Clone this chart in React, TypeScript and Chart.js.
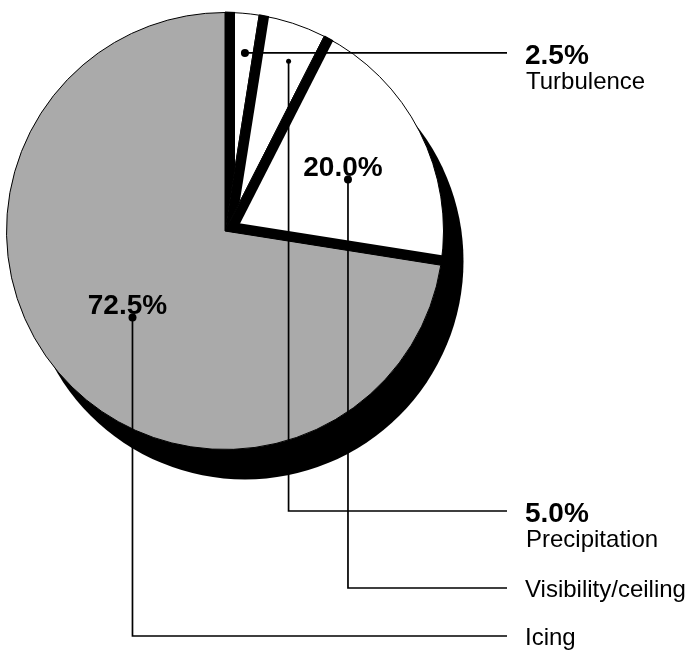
import React, { useEffect, useRef } from 'react';
import { Chart, registerables } from 'chart.js';

Chart.register(...registerables);

// ---- data ----
const categories = ['Turbulence', 'Precipitation', 'Visibility/ceiling', 'Icing'];
const shares = [2.5, 5.0, 20.0, 72.5];
const shareLabels = ['2.5%', '5.0%', '20.0%', '72.5%'];

// ---- styles / annotation layout ----
const WHITE = '#ffffff';
const GRAY = '#aaaaaa';
const sliceColors = [WHITE, WHITE, WHITE, GRAY];
const anchorT = [0.71, 0.64, 0.56, 0.49]; // fraction along slice angle
const anchorRF = [0.82, 0.83, 0.61, 0.58]; // fraction of radius
const dotRadius = [4, 2.5, 4, 4];
const pctInside = [false, false, true, true];
const legendLineY: (number | null)[] = [null, 511, 588, 636];

const SHADOW_DX = 20;
const SHADOW_DY = 30;
const BAND = 10;
const LINE_END_X = 507;
const TEXT_X = 525;
const PCT_FONT = 'bold 28px "Liberation Sans", Arial, sans-serif';
const NAME_FONT = '24px "Liberation Sans", Arial, sans-serif';

const pieDecor = {
  id: 'pieDecor',
  beforeDatasetsDraw(chart: any) {
    const meta = chart.getDatasetMeta(0);
    const a0 = meta.data[0];
    if (!a0) return;
    const { x, y, outerRadius } = a0;
    const ctx = chart.ctx;
    ctx.save();
    ctx.fillStyle = '#000';
    ctx.beginPath();
    ctx.arc(x + SHADOW_DX, y + SHADOW_DY, outerRadius, 0, Math.PI * 2);
    ctx.fill();
    ctx.restore();
  },
  afterDatasetsDraw(chart: any) {
    const meta = chart.getDatasetMeta(0);
    const arcs = meta.data;
    const ctx = chart.ctx;
    const n = arcs.length;
    // black bands on white slices
    arcs.forEach((a: any, i: number) => {
      if (sliceColors[i] !== WHITE) return;
      const { x, y, outerRadius: R, startAngle, endAngle } = a;
      const next = (i + 1) % n;
      const edges = [startAngle];
      if (sliceColors[next] !== WHITE) edges.push(endAngle);
      ctx.save();
      ctx.beginPath();
      ctx.moveTo(x, y);
      ctx.arc(x, y, R + 1, startAngle, endAngle);
      ctx.closePath();
      ctx.clip();
      ctx.strokeStyle = '#000';
      ctx.lineWidth = BAND * 2;
      ctx.lineCap = 'butt';
      edges.forEach((ang: number) => {
        const c = Math.cos(ang), s = Math.sin(ang);
        ctx.beginPath();
        ctx.moveTo(x - c * 30, y - s * 30);
        ctx.lineTo(x + c * (R + 10), y + s * (R + 10));
        ctx.stroke();
      });
      ctx.restore();
    });

    // leaders, dots and labels
    ctx.save();
    ctx.strokeStyle = '#000';
    ctx.fillStyle = '#000';
    ctx.lineWidth = 1.7;
    arcs.forEach((a: any, i: number) => {
      const { x, y, outerRadius: R, startAngle, endAngle } = a;
      const ang = startAngle + anchorT[i] * (endAngle - startAngle);
      const px = x + Math.cos(ang) * anchorRF[i] * R;
      const py = y + Math.sin(ang) * anchorRF[i] * R;

      ctx.beginPath();
      const ly = legendLineY[i];
      if (ly === null) {
        ctx.moveTo(px, py);
        ctx.lineTo(LINE_END_X, py);
      } else {
        ctx.moveTo(px, py);
        ctx.lineTo(px, ly);
        ctx.lineTo(LINE_END_X, ly);
      }
      ctx.stroke();

      ctx.beginPath();
      ctx.arc(px, py, dotRadius[i], 0, Math.PI * 2);
      ctx.fill();

      ctx.textBaseline = 'alphabetic';
      const lineY = ly === null ? py : ly;
      if (pctInside[i]) {
        ctx.font = PCT_FONT;
        ctx.textAlign = 'center';
        ctx.fillText(shareLabels[i], px - 5, py - 4);
        ctx.font = NAME_FONT;
        ctx.textAlign = 'left';
        ctx.fillText(categories[i], TEXT_X, lineY + 9);
      } else {
        ctx.font = PCT_FONT;
        ctx.textAlign = 'left';
        ctx.fillText(shareLabels[i], TEXT_X, lineY + 11);
        ctx.font = NAME_FONT;
        ctx.fillText(categories[i], TEXT_X + 1, lineY + 36);
      }
    });
    ctx.restore();
  },
};

export default function App() {
  const ref = useRef<HTMLCanvasElement>(null);
  useEffect(() => {
    if (!ref.current) return;
    const chart = new Chart(ref.current, {
      type: 'pie',
      data: {
        labels: categories,
        datasets: [
          {
            data: shares,
            backgroundColor: sliceColors,
            borderColor: '#000',
            borderWidth: 1,
            hoverOffset: 0,
          },
        ],
      },
      options: {
        responsive: false,
        animation: false,
        events: [],
        layout: { padding: { left: 6, top: 12, right: 244, bottom: 200 } },
        plugins: { legend: { display: false }, tooltip: { enabled: false } },
      },
      plugins: [pieDecor],
    } as any);
    return () => chart.destroy();
  }, []);
  return (
    <div style={{ position: 'fixed', left: 0, top: 0, width: 688, height: 650, background: '#fff' }}>
      <canvas ref={ref} width={688} height={650} style={{ display: 'block' }} />
    </div>
  );
}
